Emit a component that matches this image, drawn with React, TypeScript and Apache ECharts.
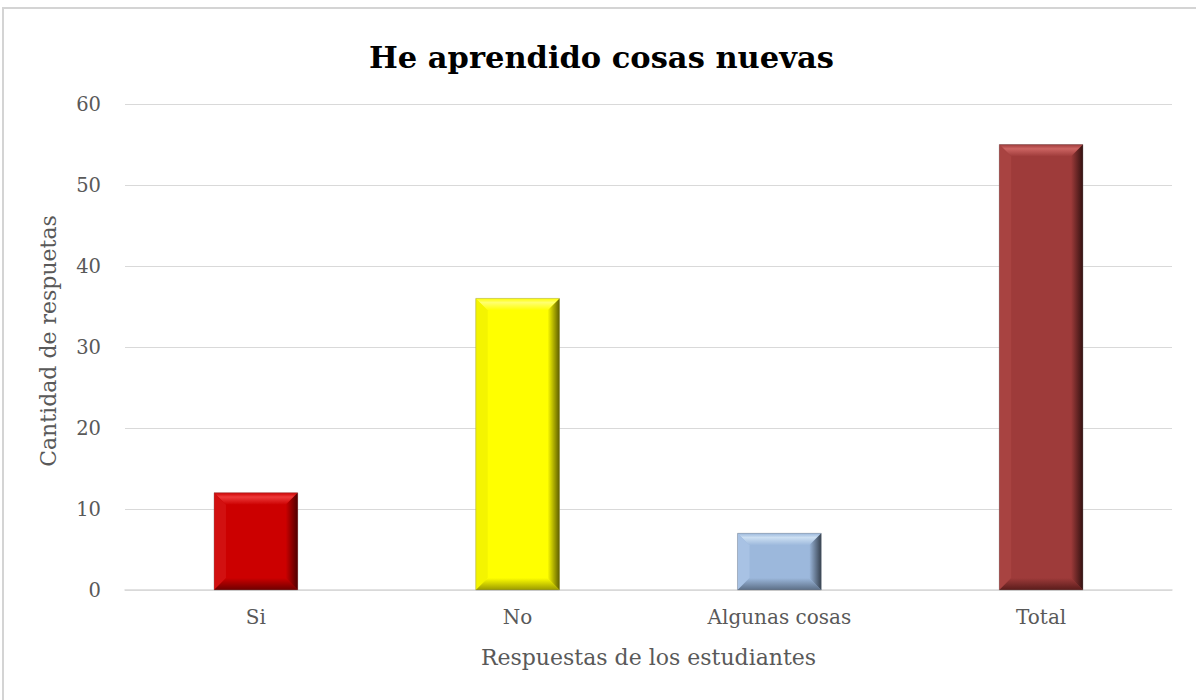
import React, { useEffect, useRef } from "react";
import * as echarts from "echarts";

const titleText = "He aprendido cosas nuevas";
const categories = ["Si", "No", "Algunas cosas", "Total"];
const values = [12, 36, 7, 55];
const yAxisName = "Cantidad de respuetas";
const xAxisName = "Respuestas de los estudiantes";

// per-bar palette: base, light (top), left, dark (right), bottom
const palettes = [
  { base: "#CC0000", light: "#EE3A3A", left: "#D21010", dark: "#4E0000", bottom: "#6E0000" },
  { base: "#FFFF00", light: "#FFFF70", left: "#F4F400", dark: "#5E5E00", bottom: "#9A9A00" },
  { base: "#9CB8DC", light: "#CCDFF2", left: "#A8C2E4", dark: "#36414F", bottom: "#5C6E86" },
  { base: "#9E3B3A", light: "#CC6462", left: "#A84341", dark: "#331110", bottom: "#5A1C1B" },
];

const FONT = "'DejaVu Serif', serif";

export default function App() {
  const ref = useRef<HTMLDivElement>(null);
  useEffect(() => {
    if (!ref.current) return;
    const chart = echarts.init(ref.current, null, { renderer: "svg" });
    const LG = echarts.graphic.LinearGradient;
    chart.setOption({
      animation: false,
      backgroundColor: "#ffffff",
      title: {
        text: titleText,
        left: 364,
        top: 36,
        textStyle: { fontFamily: FONT, fontWeight: "bold", fontSize: 30.5, color: "#000000" },
      },
      graphic: [
        {
          type: "rect",
          shape: { x: 3, y: 8, width: 1220, height: 720 },
          style: { fill: "none", stroke: "#d4d4d4", lineWidth: 2 },
          silent: true,
        },
      ],
      grid: { left: 125, right: 24, top: 104, bottom: 110 },
      xAxis: {
        type: "category",
        data: categories,
        name: xAxisName,
        nameLocation: "middle",
        nameGap: 56,
        nameTextStyle: { fontFamily: FONT, fontSize: 22, color: "#595959" },
        axisTick: { show: false },
        axisLine: { lineStyle: { color: "#d9d9d9", width: 1.5 } },
        axisLabel: { fontFamily: FONT, fontSize: 20, color: "#595959", margin: 17 },
      },
      yAxis: {
        type: "value",
        min: 0,
        max: 60,
        interval: 10,
        name: yAxisName,
        nameLocation: "middle",
        nameGap: 66,
        nameRotate: 90,
        nameTextStyle: { fontFamily: FONT, fontSize: 22, color: "#595959", padding: [0, 0, 0, 12] },
        axisLine: { show: false },
        axisTick: { show: false },
        axisLabel: { fontFamily: FONT, fontSize: 19.5, color: "#595959", margin: 24 },
        splitLine: { lineStyle: { color: "#d9d9d9", width: 1.2 } },
      },
      series: [
        {
          type: "custom",
          data: values.map((v, i) => [i, v]),
          encode: { x: 0, y: 1 },
          renderItem: (params: any, api: any) => {
            const idx = api.value(0);
            const val = api.value(1);
            const top = api.coord([idx, val]);
            const base = api.coord([idx, 0]);
            const bandW = api.size([1, 0])[0];
            const w = bandW * 0.32;
            const x0 = top[0] - w / 2;
            const x1 = x0 + w;
            const y0 = top[1];
            const y1 = base[1];
            const b = Math.min(12, (y1 - y0) / 2, w / 2);
            const p = palettes[params.dataIndex % palettes.length];
            return {
              type: "group",
              children: [
                {
                  type: "rect",
                  shape: { x: x0, y: y0, width: w, height: y1 - y0 },
                  style: { fill: p.base },
                },
                {
                  type: "polygon",
                  shape: { points: [[x0, y0], [x1, y0], [x1 - b, y0 + b], [x0 + b, y0 + b]] },
                  style: {
                    fill: new LG(0, 0, 0, 1, [
                      { offset: 0, color: p.base },
                      { offset: 0.35, color: p.light },
                      { offset: 1, color: p.base },
                    ]),
                  },
                },
                {
                  type: "polygon",
                  shape: { points: [[x0, y0], [x0 + b, y0 + b], [x0 + b, y1 - b], [x0, y1]] },
                  style: { fill: p.left },
                },
                {
                  type: "polygon",
                  shape: { points: [[x0, y1], [x1, y1], [x1 - b, y1 - b], [x0 + b, y1 - b]] },
                  style: {
                    fill: new LG(0, 0, 0, 1, [
                      { offset: 0, color: p.base },
                      { offset: 1, color: p.bottom },
                    ]),
                  },
                },
                {
                  type: "polygon",
                  shape: { points: [[x1, y0], [x1, y1], [x1 - b, y1 - b], [x1 - b, y0 + b]] },
                  style: {
                    fill: new LG(0, 0, 1, 0, [
                      { offset: 0, color: p.base },
                      { offset: 1, color: p.dark },
                    ]),
                  },
                },
                {
                  type: "rect",
                  shape: { x: x0, y: y0, width: w, height: y1 - y0 },
                  style: { fill: "none", stroke: "rgba(120,120,120,0.35)", lineWidth: 1 },
                },
              ],
            };
          },
        },
      ],
    });
    return () => chart.dispose();
  }, []);
  return (
    <div
      ref={ref}
      style={{ position: "absolute", left: 0, top: 0, width: 1196, height: 700 }}
    />
  );
}
